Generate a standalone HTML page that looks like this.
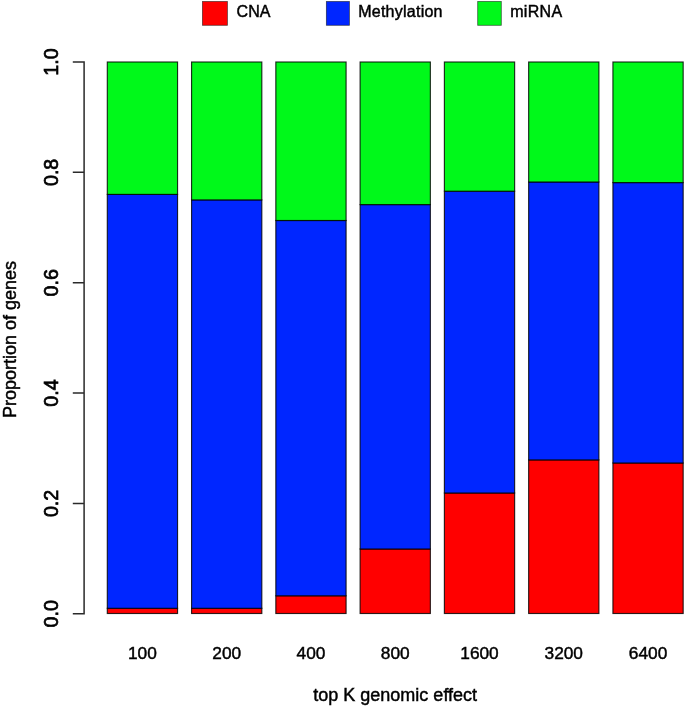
<!DOCTYPE html>
<html lang="en"><head><meta charset="utf-8"><title>Proportion of genes</title>
<style>
html,body{margin:0;padding:0;background:#fff;}
body{width:685px;height:707px;overflow:hidden;}
svg{display:block;}
text{font-family:"Liberation Sans",Arial,Helvetica,sans-serif;fill:#000;stroke:#000;stroke-width:0.45px;}
.ax{font-size:20.5px;stroke-width:0.7px;}
.lab{font-size:18px;}
.xl{font-size:17.3px;}
.leg{font-size:16px;}
.bar{stroke:#000;stroke-opacity:0.82;stroke-width:1.15;}
.axl{stroke:#2a2a2a;stroke-width:1.5;fill:none;}
</style></head><body>
<svg width="685" height="707" viewBox="0 0 685 707">
<rect x="0" y="0" width="685" height="707" fill="#ffffff"/>

<rect x="202.45" y="1.5" width="24.95" height="23.8" fill="#ff0000" stroke="#000" stroke-opacity="0.6" stroke-width="0.8"/>
<text class="leg" x="236.60" y="17.1" letter-spacing="0">CNA</text>
<rect x="326.35" y="1.5" width="23.05" height="23.8" fill="#0026ff" stroke="#000" stroke-opacity="0.6" stroke-width="0.8"/>
<text class="leg" x="358.20" y="17.1" letter-spacing="0.25">Methylation</text>
<rect x="477.70" y="1.5" width="23.60" height="23.8" fill="#00f91a" stroke="#000" stroke-opacity="0.6" stroke-width="0.8"/>
<text class="leg" x="510.20" y="17.1" letter-spacing="0.3">miRNA</text>
<rect class="bar" x="107.30" y="608.30" width="70.25" height="5.20" fill="#ff0000"/>
<rect class="bar" x="107.30" y="194.40" width="70.25" height="413.90" fill="#0026ff"/>
<rect class="bar" x="107.30" y="62.00" width="70.25" height="132.40" fill="#00f91a"/>
<text class="xl" text-anchor="middle" x="142.43" y="659.0">100</text>
<rect class="bar" x="191.57" y="608.30" width="70.25" height="5.20" fill="#ff0000"/>
<rect class="bar" x="191.57" y="199.90" width="70.25" height="408.40" fill="#0026ff"/>
<rect class="bar" x="191.57" y="62.00" width="70.25" height="137.90" fill="#00f91a"/>
<text class="xl" text-anchor="middle" x="226.69" y="659.0">200</text>
<rect class="bar" x="275.84" y="595.80" width="70.25" height="17.70" fill="#ff0000"/>
<rect class="bar" x="275.84" y="220.50" width="70.25" height="375.30" fill="#0026ff"/>
<rect class="bar" x="275.84" y="62.00" width="70.25" height="158.50" fill="#00f91a"/>
<text class="xl" text-anchor="middle" x="310.96" y="659.0">400</text>
<rect class="bar" x="360.11" y="549.00" width="70.25" height="64.50" fill="#ff0000"/>
<rect class="bar" x="360.11" y="204.60" width="70.25" height="344.40" fill="#0026ff"/>
<rect class="bar" x="360.11" y="62.00" width="70.25" height="142.60" fill="#00f91a"/>
<text class="xl" text-anchor="middle" x="395.24" y="659.0">800</text>
<rect class="bar" x="444.38" y="493.00" width="70.25" height="120.50" fill="#ff0000"/>
<rect class="bar" x="444.38" y="191.20" width="70.25" height="301.80" fill="#0026ff"/>
<rect class="bar" x="444.38" y="62.00" width="70.25" height="129.20" fill="#00f91a"/>
<text class="xl" text-anchor="middle" x="479.50" y="659.0">1600</text>
<rect class="bar" x="528.65" y="459.90" width="70.25" height="153.60" fill="#ff0000"/>
<rect class="bar" x="528.65" y="182.00" width="70.25" height="277.90" fill="#0026ff"/>
<rect class="bar" x="528.65" y="62.00" width="70.25" height="120.00" fill="#00f91a"/>
<text class="xl" text-anchor="middle" x="563.77" y="659.0">3200</text>
<rect class="bar" x="612.92" y="463.00" width="70.25" height="150.50" fill="#ff0000"/>
<rect class="bar" x="612.92" y="182.60" width="70.25" height="280.40" fill="#0026ff"/>
<rect class="bar" x="612.92" y="62.00" width="70.25" height="120.60" fill="#00f91a"/>
<text class="xl" text-anchor="middle" x="648.04" y="659.0">6400</text>
<text class="ax" text-anchor="middle" transform="translate(58.0 613.80) rotate(-90) scale(0.96 1.02)">0.0</text>
<text class="ax" text-anchor="middle" transform="translate(58.0 503.44) rotate(-90) scale(0.96 1.02)">0.2</text>
<text class="ax" text-anchor="middle" transform="translate(58.0 393.08) rotate(-90) scale(0.96 1.02)">0.4</text>
<text class="ax" text-anchor="middle" transform="translate(58.0 282.72) rotate(-90) scale(0.96 1.02)">0.6</text>
<text class="ax" text-anchor="middle" transform="translate(58.0 172.36) rotate(-90) scale(0.96 1.02)">0.8</text>
<text class="ax" text-anchor="middle" transform="translate(58.0 62.00) rotate(-90) scale(0.96 1.02)">1.0</text>
<path class="axl" d="M84.1 61.25 V614.55 M84.1 613.80 H72.8 M84.1 503.44 H72.8 M84.1 393.08 H72.8 M84.1 282.72 H72.8 M84.1 172.36 H72.8 M84.1 62.00 H72.8"/>
<text class="lab" text-anchor="middle" transform="translate(15.8 339.5) rotate(-90)">Proportion of genes</text>
<text class="lab" text-anchor="middle" x="395.2" y="701">top K genomic effect</text>
</svg></body></html>
